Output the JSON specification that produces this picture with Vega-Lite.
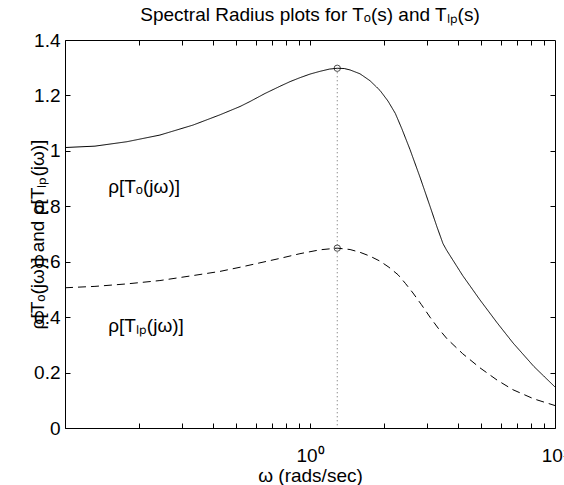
{
  "$schema": "https://vega.github.io/schema/vega-lite/v6.json",
  "width": 490,
  "height": 388,
  "autosize": {"type": "none"},
  "padding": {"left": 65, "top": 40, "right": 9, "bottom": 57},
  "background": "white",
  "config": {
    "font": "Liberation Sans",
    "view": {"stroke": "black", "strokeWidth": 1},
    "axis": {
      "grid": false,
      "domainColor": "black",
      "tickColor": "black",
      "tickSize": 5,
      "labelColor": "black",
      "titleColor": "black",
      "labelFont": "Liberation Sans",
      "titleFont": "Liberation Sans",
      "labelFontSize": 19,
      "titleFontSize": 19,
      "titleFontWeight": "normal",
      "labelFlush": false,
      "labelOverlap": false
    }
  },
  "title": {
    "text": "Spectral Radius plots for Tₒ(s) and Tₗₚ(s)",
    "fontSize": 19,
    "fontWeight": "normal",
    "font": "Liberation Sans",
    "color": "black",
    "offset": 6,
    "anchor": "middle"
  },
  "datasets": {
    "curves": [
      {"s": "To", "w": 0.1, "v": 1.012},
      {"s": "To", "w": 0.1325, "v": 1.017},
      {"s": "To", "w": 0.179, "v": 1.033},
      {"s": "To", "w": 0.244, "v": 1.057},
      {"s": "To", "w": 0.333, "v": 1.093},
      {"s": "To", "w": 0.429, "v": 1.13},
      {"s": "To", "w": 0.518, "v": 1.16},
      {"s": "To", "w": 0.569, "v": 1.178},
      {"s": "To", "w": 0.655, "v": 1.207},
      {"s": "To", "w": 0.754, "v": 1.233},
      {"s": "To", "w": 0.83, "v": 1.25},
      {"s": "To", "w": 0.91, "v": 1.264},
      {"s": "To", "w": 1.0, "v": 1.277},
      {"s": "To", "w": 1.099, "v": 1.287},
      {"s": "To", "w": 1.2, "v": 1.295},
      {"s": "To", "w": 1.292, "v": 1.298},
      {"s": "To", "w": 1.38, "v": 1.297},
      {"s": "To", "w": 1.457, "v": 1.292},
      {"s": "To", "w": 1.6, "v": 1.278},
      {"s": "To", "w": 1.758, "v": 1.253},
      {"s": "To", "w": 1.931, "v": 1.218},
      {"s": "To", "w": 2.08, "v": 1.18},
      {"s": "To", "w": 2.23, "v": 1.135},
      {"s": "To", "w": 2.37, "v": 1.08},
      {"s": "To", "w": 2.559, "v": 1.005},
      {"s": "To", "w": 2.812, "v": 0.905},
      {"s": "To", "w": 3.089, "v": 0.8},
      {"s": "To", "w": 3.3, "v": 0.725},
      {"s": "To", "w": 3.491, "v": 0.665},
      {"s": "To", "w": 3.62, "v": 0.64},
      {"s": "To", "w": 4.2, "v": 0.55},
      {"s": "To", "w": 4.942, "v": 0.462},
      {"s": "To", "w": 5.8, "v": 0.38},
      {"s": "To", "w": 6.739, "v": 0.307},
      {"s": "To", "w": 8.2, "v": 0.222},
      {"s": "To", "w": 10, "v": 0.148},
      {"s": "Tlp", "w": 0.1, "v": 0.506},
      {"s": "Tlp", "w": 0.1325, "v": 0.511},
      {"s": "Tlp", "w": 0.179, "v": 0.52},
      {"s": "Tlp", "w": 0.244, "v": 0.532},
      {"s": "Tlp", "w": 0.333, "v": 0.55},
      {"s": "Tlp", "w": 0.429, "v": 0.565},
      {"s": "Tlp", "w": 0.518, "v": 0.58},
      {"s": "Tlp", "w": 0.569, "v": 0.588},
      {"s": "Tlp", "w": 0.754, "v": 0.612},
      {"s": "Tlp", "w": 0.91, "v": 0.629},
      {"s": "Tlp", "w": 1.099, "v": 0.643},
      {"s": "Tlp", "w": 1.292, "v": 0.649},
      {"s": "Tlp", "w": 1.457, "v": 0.644},
      {"s": "Tlp", "w": 1.6, "v": 0.634},
      {"s": "Tlp", "w": 1.758, "v": 0.62},
      {"s": "Tlp", "w": 1.931, "v": 0.602},
      {"s": "Tlp", "w": 2.1, "v": 0.58},
      {"s": "Tlp", "w": 2.287, "v": 0.553},
      {"s": "Tlp", "w": 2.45, "v": 0.522},
      {"s": "Tlp", "w": 2.633, "v": 0.487},
      {"s": "Tlp", "w": 2.85, "v": 0.445},
      {"s": "Tlp", "w": 3.089, "v": 0.4},
      {"s": "Tlp", "w": 3.35, "v": 0.358},
      {"s": "Tlp", "w": 3.624, "v": 0.322},
      {"s": "Tlp", "w": 4.2, "v": 0.268},
      {"s": "Tlp", "w": 4.942, "v": 0.217},
      {"s": "Tlp", "w": 5.8, "v": 0.173},
      {"s": "Tlp", "w": 6.739, "v": 0.138},
      {"s": "Tlp", "w": 8.2, "v": 0.105},
      {"s": "Tlp", "w": 10, "v": 0.081}
    ],
    "peak": [{"w": 1.292, "v": 1.298, "v0": 0}],
    "peaks": [{"w": 1.292, "v": 1.298}, {"w": 1.292, "v": 0.649}],
    "labels": [
      {"w": 0.15, "v": 0.848, "label": "ρ[Tₒ(jω)]"},
      {"w": 0.15, "v": 0.347, "label": "ρ[Tₗₚ(jω)]"}
    ]
  },
  "layer": [
    {
      "data": {"name": "curves"},
      "mark": {"type": "line", "color": "black", "strokeWidth": 1, "clip": true},
      "encoding": {
        "x": {
          "field": "w",
          "type": "quantitative",
          "scale": {"type": "log", "domain": [0.1, 10]},
          "axis": {
            "orient": "bottom",
            "values": [1, 10],
            "ticks": false,
            "labelExpr": "datum.value == 1 ? '10⁰' : '10¹'",
            "labelPadding": 18,
            "title": "ω (rads/sec)",
            "titleY": 53,
            "titleBaseline": "alphabetic"
          }
        },
        "y": {
          "field": "v",
          "type": "quantitative",
          "scale": {"domain": [0, 1.4], "nice": false},
          "axis": {
            "orient": "left",
            "values": [0, 0.2, 0.4, 0.6, 0.8, 1, 1.2, 1.4],
            "ticks": false,
            "format": ".1~f",
            "labelPadding": 5,
            "title": "ρ[Tₒ(jω)] and ρ[Tₗₚ(jω)]",
            "titleX": -22,
            "titleBaseline": "alphabetic",
            "titleAngle": -90
          }
        },
        "strokeDash": {
          "field": "s",
          "type": "nominal",
          "scale": {"domain": ["To", "Tlp"], "range": [[1, 0], [8, 5]]},
          "legend": null
        }
      }
    },
    {
      "data": {"name": "peak"},
      "mark": {"type": "rule", "color": "#666666", "strokeDash": [1, 3], "strokeWidth": 1},
      "encoding": {
        "x": {
          "field": "w",
          "type": "quantitative",
          "axis": {
            "orient": "top",
            "offset": -388,
            "values": [0.2, 0.3, 0.4, 0.5, 0.6, 0.7, 0.8, 0.9, 1, 2, 3, 4, 5, 6, 7, 8, 9],
            "labels": false,
            "domain": false,
            "title": null
          }
        },
        "y": {
          "field": "v",
          "type": "quantitative",
          "axis": {
            "orient": "right",
            "offset": -490,
            "values": [0.2, 0.4, 0.6, 0.8, 1, 1.2],
            "labels": false,
            "domain": false,
            "title": null
          }
        },
        "y2": {"field": "v0"}
      }
    },
    {
      "data": {"name": "peaks"},
      "mark": {"type": "point", "shape": "circle", "filled": false, "color": "black", "size": 40, "strokeWidth": 1},
      "encoding": {
        "x": {
          "field": "w",
          "type": "quantitative",
          "axis": {
            "orient": "bottom",
            "offset": -388,
            "values": [0.2, 0.3, 0.4, 0.5, 0.6, 0.7, 0.8, 0.9, 1, 2, 3, 4, 5, 6, 7, 8, 9],
            "labels": false,
            "domain": false,
            "title": null
          }
        },
        "y": {
          "field": "v",
          "type": "quantitative",
          "axis": {
            "orient": "left",
            "offset": -490,
            "values": [0.2, 0.4, 0.6, 0.8, 1, 1.2],
            "labels": false,
            "domain": false,
            "title": null
          }
        }
      }
    },
    {
      "data": {"name": "labels"},
      "mark": {"type": "text", "align": "left", "baseline": "alphabetic", "fontSize": 19, "font": "Liberation Sans", "color": "black"},
      "encoding": {
        "x": {"field": "w", "type": "quantitative", "axis": null},
        "y": {"field": "v", "type": "quantitative", "axis": null},
        "text": {"field": "label"}
      }
    }
  ],
  "resolve": {"axis": {"x": "independent", "y": "independent"}}
}
